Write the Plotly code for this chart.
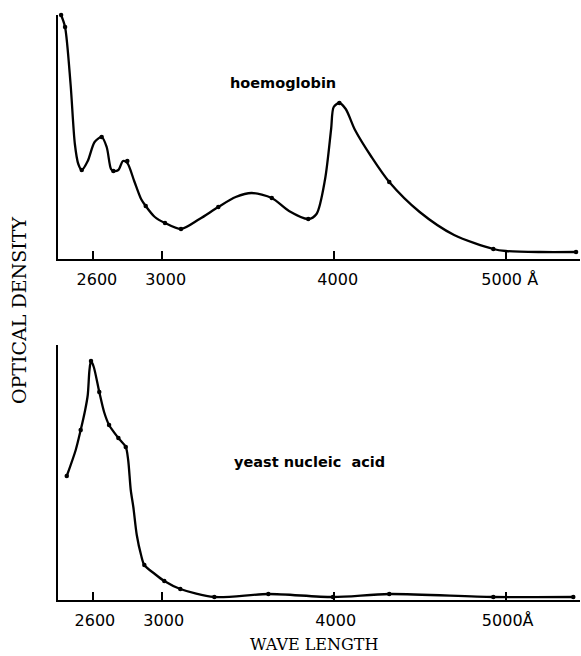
import plotly.graph_objects as go

# ---- hoemoglobin (top panel) ----
hb_curve_x = [2415, 2438, 2470, 2495, 2515, 2535, 2570, 2610, 2651, 2680, 2705, 2719, 2748, 2775, 2800, 2840, 2880, 2907, 2960, 3019, 3112, 3220, 3329, 3430, 3523, 3640, 3740, 3852, 3900, 3950, 3985, 4000, 4033, 4070, 4124, 4220, 4323, 4500, 4700, 4928, 5000, 5200, 5409]
hb_curve_y = [2.44, 2.32, 1.75, 1.15, 0.95, 0.89, 0.98, 1.17, 1.22, 1.12, 0.90, 0.88, 0.89, 0.98, 0.96, 0.78, 0.60, 0.53, 0.42, 0.36, 0.30, 0.40, 0.52, 0.62, 0.66, 0.61, 0.48, 0.40, 0.45, 0.80, 1.30, 1.52, 1.56, 1.50, 1.29, 1.02, 0.77, 0.47, 0.24, 0.10, 0.08, 0.07, 0.07]
hb_dot_x = [2415, 2438, 2535, 2651, 2719, 2800, 2907, 3019, 3112, 3329, 3640, 3852, 4033, 4323, 4928, 5409]
hb_dot_y = [2.44, 2.32, 0.89, 1.22, 0.88, 0.98, 0.53, 0.36, 0.30, 0.52, 0.61, 0.40, 1.56, 0.77, 0.10, 0.07]

# ---- yeast nucleic acid (bottom panel) ----
yn_curve_x = [2448, 2500, 2529, 2555, 2570, 2580, 2589, 2605, 2637, 2665, 2694, 2748, 2791, 2805, 2820, 2835, 2855, 2880, 2899, 2960, 3015, 3108, 3306, 3620, 3996, 4323, 4928, 5393]
yn_curve_y = [1.24, 1.50, 1.70, 1.90, 2.05, 2.30, 2.39, 2.33, 2.08, 1.88, 1.75, 1.62, 1.53, 1.40, 1.10, 0.93, 0.65, 0.45, 0.35, 0.26, 0.19, 0.11, 0.03, 0.06, 0.03, 0.06, 0.03, 0.03]
yn_dot_x = [2448, 2529, 2589, 2637, 2694, 2748, 2791, 2899, 3015, 3108, 3306, 3620, 3996, 4323, 4928, 5393]
yn_dot_y = [1.24, 1.70, 2.39, 2.08, 1.75, 1.62, 1.53, 0.35, 0.19, 0.11, 0.03, 0.06, 0.03, 0.06, 0.03, 0.03]

tick_vals = [2600, 3000, 4000, 5000]
top_tick_text = ["2600", "3000", "4000", "5000 Å"]
bot_tick_text = ["2600", "3000", "4000", "5000Å"]

W, H = 581, 656
def fx(px):
    return px / W
def fy(py):
    return 1 - py / H

fig = go.Figure()
line_style = dict(color="black", width=2.3, shape="spline", smoothing=0.8)
dot_style = dict(color="black", size=4.5)

fig.add_trace(go.Scatter(x=hb_curve_x, y=hb_curve_y, mode="lines", line=line_style,
                         cliponaxis=False, xaxis="x", yaxis="y", showlegend=False, hoverinfo="skip"))
fig.add_trace(go.Scatter(x=hb_dot_x, y=hb_dot_y, mode="markers", marker=dot_style,
                         cliponaxis=False, xaxis="x", yaxis="y", showlegend=False))
fig.add_trace(go.Scatter(x=yn_curve_x, y=yn_curve_y, mode="lines", line=line_style,
                         cliponaxis=False, xaxis="x2", yaxis="y2", showlegend=False, hoverinfo="skip"))
fig.add_trace(go.Scatter(x=yn_dot_x, y=yn_dot_y, mode="markers", marker=dot_style,
                         cliponaxis=False, xaxis="x2", yaxis="y2", showlegend=False))

x_range = [2397, 5432]
tick_font = dict(family="DejaVu Sans", size=16, color="black")
xaxis_common = dict(range=x_range, domain=[fx(58), fx(580)], tickmode="array",
                    tickvals=tick_vals, ticks="inside", ticklen=8, tickwidth=1.5,
                    tickcolor="black", showline=True, linecolor="black", linewidth=2,
                    showgrid=False, zeroline=False, tickfont=tick_font,
                    ticklabelstandoff=5)
yaxis_common = dict(showline=True, linecolor="black", linewidth=1.5, showgrid=False,
                    zeroline=False, showticklabels=False, ticks="")

ann_common = dict(xref="paper", yref="paper", showarrow=False,
                  xanchor="center", yanchor="middle")

fig.update_layout(
    width=W, height=H,
    margin=dict(l=0, r=0, t=0, b=0),
    paper_bgcolor="white", plot_bgcolor="white",
    xaxis=dict(**xaxis_common, anchor="y", ticktext=top_tick_text, ticklabelshift=4),
    yaxis=dict(**yaxis_common, range=[0, 2.44], domain=[fy(259), fy(15)], anchor="x"),
    xaxis2=dict(**xaxis_common, anchor="y2", ticktext=bot_tick_text, ticklabelshift=2),
    yaxis2=dict(**yaxis_common, range=[0, 2.55], domain=[fy(600), fy(345)], anchor="x2"),
    annotations=[
        dict(text="<b>hoemoglobin</b>", x=fx(283), y=fy(83), **ann_common,
             font=dict(family="DejaVu Sans", size=14.5, color="black")),
        dict(text="<b>yeast nucleic\u00a0\u00a0acid</b>", x=fx(309), y=fy(462), **ann_common,
             font=dict(family="DejaVu Sans", size=14.5, color="black")),
        dict(text="OPTICAL DENSITY", x=fx(19), y=fy(311), textangle=-90, **ann_common,
             font=dict(family="DejaVu Serif", size=19, color="black")),
        dict(text="WAVE LENGTH", x=fx(314), y=fy(644), **ann_common,
             font=dict(family="DejaVu Serif", size=16, color="black")),
    ],
)

fig.write_html("out.html")
